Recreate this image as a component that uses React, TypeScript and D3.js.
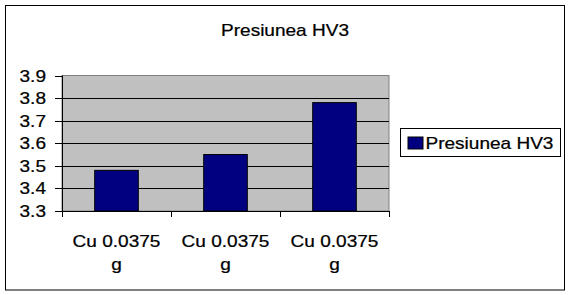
import React from "react";
import * as d3 from "d3";

const categories = ["Cu 0.0375 g#1", "Cu 0.0375 g#2", "Cu 0.0375 g#3"];
const categoryLines = [["Cu 0.0375", "g"], ["Cu 0.0375", "g"], ["Cu 0.0375", "g"]];
const values = [3.48, 3.55, 3.78];
const yTicks = [3.3, 3.4, 3.5, 3.6, 3.7, 3.8, 3.9];
const seriesName = "Presiunea HV3";
const title = "Presiunea HV3";

const W = 570, H = 295;
const plot = { left: 62, right: 389, top: 75.5, bottom: 211 };
const FONT = "Arial, 'Liberation Sans', sans-serif";
const SX = 1.12;
const FS = 17;

function SText(props: { x: number; y: number; anchor?: string; children: React.ReactNode }) {
  const { x, y, anchor = "start", children } = props;
  return (
    <g transform={`translate(${x},${y}) scale(${SX},1)`}>
      <text x={0} y={0} textAnchor={anchor} fontFamily={FONT} fontSize={FS} fill="#000" stroke="#000" strokeWidth={0.25}>
        {children}
      </text>
    </g>
  );
}

export default function App() {
  const x = d3.scaleBand().domain(categories).range([plot.left, plot.right]).paddingInner(0).paddingOuter(0);
  const y = d3.scaleLinear().domain([3.3, 3.9]).range([plot.bottom, plot.top]);
  const bw = x.bandwidth() / 2.5;
  return (
    <svg width={W} height={H} style={{ position: "absolute", left: 0, top: 0 }}>
      <rect x={0} y={0} width={W} height={H} fill="#fff" />
      <rect x={5.5} y={5.5} width={559} height={284.5} fill="none" stroke="#000" strokeWidth={1} />
      <SText x={285} y={36} anchor="middle">{title}</SText>
      <rect x={plot.left} y={plot.top} width={plot.right - plot.left} height={plot.bottom - plot.top} fill="#c0c0c0" stroke="#808080" strokeWidth={1} />
      {yTicks.slice(1, -1).map((t) => (
        <line key={t} x1={plot.left} x2={plot.right} y1={Math.round(y(t)) + 0.5} y2={Math.round(y(t)) + 0.5} stroke="#000" strokeWidth={1} />
      ))}
      {categories.map((c, i) => {
        const cx = (x(c) as number) + x.bandwidth() / 2;
        const top = y(values[i]);
        return (
          <rect key={c} x={cx - bw / 2} y={top} width={bw} height={plot.bottom - top} fill="#000080" stroke="#000" strokeWidth={1} />
        );
      })}
      <line x1={plot.left + 0.5} x2={plot.left + 0.5} y1={plot.top} y2={plot.bottom} stroke="#000" />
      <line x1={plot.left} x2={plot.right} y1={plot.bottom + 0.5} y2={plot.bottom + 0.5} stroke="#000" />
      {yTicks.map((t) => (
        <g key={t}>
          <line x1={55} x2={plot.left} y1={Math.round(y(t)) + 0.5} y2={Math.round(y(t)) + 0.5} stroke="#000" />
          <SText x={46} y={y(t) + 6} anchor="end">{t.toFixed(1)}</SText>
        </g>
      ))}
      {[...categories.map((c) => x(c) as number), plot.right].map((px, i) => (
        <line key={i} x1={Math.round(px) + 0.5} x2={Math.round(px) + 0.5} y1={plot.bottom} y2={plot.bottom + 6} stroke="#000" />
      ))}
      {categories.map((c, i) => {
        const cx = (x(c) as number) + x.bandwidth() / 2;
        return (
          <g key={c}>
            <SText x={cx} y={246.5} anchor="middle">{categoryLines[i][0]}</SText>
            <SText x={cx} y={269.5} anchor="middle">{categoryLines[i][1]}</SText>
          </g>
        );
      })}
      <rect x={400.5} y={128.5} width={160} height={28} fill="#fff" stroke="#000" strokeWidth={1} />
      <rect x={408} y={137} width={15} height={12} fill="#000080" stroke="#000" strokeWidth={1} />
      <SText x={425.5} y={149}>{seriesName}</SText>
    </svg>
  );
}
